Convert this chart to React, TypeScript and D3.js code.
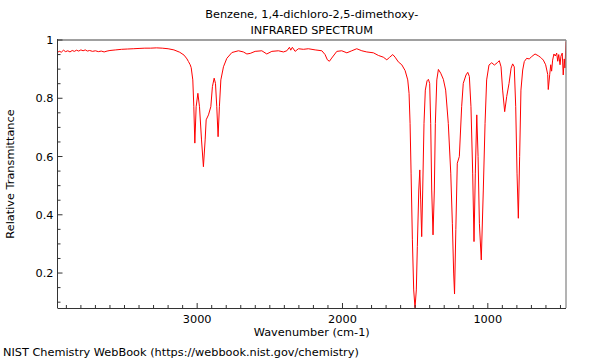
import React from "react";
import * as d3 from "d3";

const titleLines = ["Benzene, 1,4-dichloro-2,5-dimethoxy-", "INFRARED SPECTRUM"];
const xLabel = "Wavenumber (cm-1)";
const yLabel = "Relative Transmittance";
const credit = "NIST Chemistry WebBook (https://webbook.nist.gov/chemistry)";

const xMajorTicks = [3000, 2000, 1000];
const yMajorTicks = [0.2, 0.4, 0.6, 0.8, 1];
const yTickLabels = ["0.2", "0.4", "0.6", "0.8", "1"];

const wavenumbers = [
  3963, 3950, 3935, 3920, 3905, 3890, 3875, 3860, 3845, 3830, 3815, 3800, 3785, 3770, 3755, 3740,
  3720, 3700, 3680, 3660, 3640, 3620, 3600, 3560, 3520, 3480, 3440, 3400, 3360, 3320, 3280, 3240,
  3200, 3160, 3120, 3090, 3070, 3060, 3048, 3041, 3030, 3023, 3016, 3007, 2995, 2984, 2970, 2957,
  2945, 2938, 2922, 2906, 2895, 2883, 2874, 2865, 2856, 2847, 2837, 2819, 2796, 2761, 2716, 2682,
  2658, 2635, 2601, 2555, 2521, 2486, 2441, 2406, 2383, 2365, 2356, 2345, 2326, 2303, 2269, 2235,
  2188, 2142, 2120, 2104, 2090, 2074, 2039, 2005, 1970, 1936, 1902, 1867, 1833, 1787, 1753, 1719,
  1695, 1677, 1654, 1638, 1616, 1592, 1569, 1551, 1542, 1535, 1528, 1519, 1510, 1501, 1492, 1485,
  1475, 1468, 1462, 1455, 1448, 1439, 1430, 1418, 1409, 1400, 1393, 1386, 1377, 1368, 1361, 1351,
  1340, 1324, 1306, 1290, 1272, 1255, 1244, 1235, 1229, 1220, 1210, 1196, 1180, 1169, 1150, 1138,
  1127, 1116, 1104, 1095, 1086, 1076, 1067, 1058, 1045, 1031, 1019, 1008, 992, 973, 955, 935,
  921, 909, 898, 884, 870, 854, 840, 829, 818, 808, 799, 790, 781, 772, 760, 749,
  733, 715, 698, 675, 653, 636, 618, 602, 588, 584, 574, 567, 561, 554, 545, 536,
  526, 519, 512, 503, 497, 488, 481, 474, 469, 462,
];

const transmittance = [
  0.955, 0.962, 0.958, 0.965, 0.96, 0.963, 0.959, 0.964, 0.961, 0.965, 0.962, 0.966, 0.963, 0.966, 0.962, 0.964,
  0.961, 0.963, 0.96, 0.962, 0.959, 0.962, 0.964, 0.966, 0.968, 0.969, 0.97, 0.971, 0.972, 0.972, 0.973, 0.972,
  0.97, 0.966, 0.958, 0.948, 0.935, 0.926, 0.915, 0.905, 0.863, 0.771, 0.646, 0.771, 0.817, 0.771, 0.657, 0.565,
  0.657, 0.726, 0.743, 0.771, 0.84, 0.869, 0.851, 0.771, 0.668, 0.771, 0.863, 0.908, 0.937, 0.957, 0.963, 0.959,
  0.952, 0.954, 0.961, 0.963, 0.952, 0.961, 0.963, 0.959, 0.963, 0.975, 0.965, 0.975, 0.961, 0.97, 0.968, 0.97,
  0.966, 0.963, 0.95, 0.932, 0.927, 0.938, 0.961, 0.963, 0.956, 0.963, 0.97, 0.963, 0.959, 0.956, 0.947, 0.941,
  0.932, 0.94, 0.95, 0.941, 0.925, 0.915, 0.895, 0.863, 0.817, 0.714, 0.543, 0.314, 0.142, 0.081, 0.142, 0.291,
  0.485, 0.554, 0.451, 0.325, 0.485, 0.714, 0.828, 0.86, 0.865, 0.851, 0.714, 0.485, 0.331, 0.485, 0.714, 0.863,
  0.899, 0.886, 0.865, 0.828, 0.714, 0.543, 0.371, 0.2, 0.128, 0.35, 0.577, 0.6, 0.771, 0.851, 0.88, 0.889,
  0.875, 0.771, 0.543, 0.308, 0.543, 0.743, 0.6, 0.371, 0.245, 0.485, 0.714, 0.863, 0.914, 0.922, 0.914, 0.922,
  0.929, 0.908, 0.828, 0.754, 0.806, 0.851, 0.903, 0.918, 0.908, 0.771, 0.543, 0.388, 0.6, 0.828, 0.897, 0.926,
  0.937, 0.935, 0.943, 0.952, 0.946, 0.94, 0.931, 0.915, 0.882, 0.83, 0.882, 0.915, 0.893, 0.931, 0.952, 0.945,
  0.955, 0.927, 0.95, 0.915, 0.944, 0.955, 0.88, 0.935, 0.904, 0.995,
];

const W = 600;
const H = 360;
const left = 57.5;
const right = 566;
const top = 40;
const bottom = 308;
const FONT = "'DejaVu Sans', sans-serif";
const FS = 11.3;

export default function App() {
  const x = d3.scaleLinear().domain([3961, 462]).range([left, right]);
  const y = d3.scaleLinear().domain([0.08, 1]).range([bottom, top]);

  const pts = wavenumbers.map((w, i) => [w, transmittance[i]] as [number, number]);
  const line = d3
    .line<[number, number]>()
    .x((d) => x(d[0]))
    .y((d) => y(d[1]));

  const xMinor = d3.range(500, 4000, 100).filter((v) => v % 1000 !== 0 && v >= 462 && v <= 3961);
  const yMinor = d3.range(0.1, 1.0001, 0.05).map((v) => +v.toFixed(2)).filter((v) => Math.abs((v * 10) % 2) > 0.01 && Math.abs((v * 10) % 2 - 2) > 0.01);

  return (
    <svg
      width={W}
      height={H}
      style={{ position: "fixed", left: 0, top: 0, background: "#fff" }}
      fontFamily={FONT}
    >
      <defs>
        <clipPath id="plotclip">
          <rect x={left} y={top} width={right - left} height={bottom - top} />
        </clipPath>
      </defs>
      <rect x={0} y={0} width={W} height={H} fill="#fff" />

      {titleLines.map((t, i) => (
        <text key={t} x={(left + right) / 2} y={17.5 + i * 16.5} textAnchor="middle" fontSize={FS} fill="#000">
          {t}
        </text>
      ))}

      <path d={line(pts) || ""} fill="none" stroke="#ff0000" strokeWidth={1} clipPath="url(#plotclip)" />

      {/* frame */}
      <line x1={left} x2={right} y1={top} y2={top} stroke="#a0a0a0" strokeWidth={2} />
      <line x1={right} x2={right} y1={top} y2={bottom} stroke="#808080" strokeWidth={1.2} />
      <line x1={left} x2={left} y1={top - 1} y2={bottom} stroke="#333" strokeWidth={1} />
      <line x1={left} x2={right} y1={bottom + 0.5} y2={bottom + 0.5} stroke="#333" strokeWidth={1} />

      {/* x ticks */}
      {xMajorTicks.map((v) => (
        <g key={v}>
          <line x1={x(v)} x2={x(v)} y1={bottom} y2={bottom - 5} stroke="#333" />
          <text x={x(v)} y={bottom + 15} textAnchor="middle" fontSize={FS} fill="#000">
            {v}
          </text>
        </g>
      ))}
      {xMinor.map((v) => (
        <line key={v} x1={x(v)} x2={x(v)} y1={bottom} y2={bottom - 3} stroke="#333" />
      ))}

      {/* y ticks */}
      {yMajorTicks.map((v, i) => (
        <g key={v}>
          <line x1={left} x2={left + 5} y1={y(v)} y2={y(v)} stroke="#333" />
          <text x={left - 4} y={y(v) + 4} textAnchor="end" fontSize={FS} fill="#000">
            {yTickLabels[i]}
          </text>
        </g>
      ))}
      {yMinor.map((v) => (
        <line key={v} x1={left} x2={left + 3} y1={y(v)} y2={y(v)} stroke="#333" />
      ))}

      <text x={(left + right) / 2} y={336} textAnchor="middle" fontSize={FS} fill="#000">
        {xLabel}
      </text>
      <text
        transform={`translate(14, ${(top + bottom) / 2}) rotate(-90)`}
        textAnchor="middle"
        fontSize={FS}
        fill="#000"
      >
        {yLabel}
      </text>
      <text x={3} y={356} fontSize={FS} fill="#000">
        {credit}
      </text>
    </svg>
  );
}
